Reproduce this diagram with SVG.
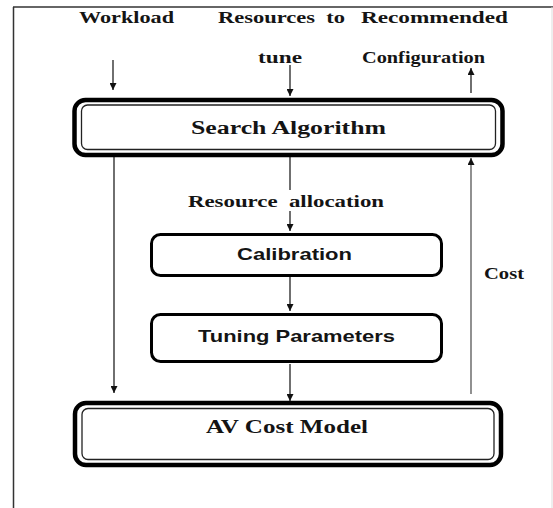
<svg xmlns="http://www.w3.org/2000/svg" width="553" height="508" viewBox="0 0 553 508">
<style>
.lbl{font-family:"Liberation Serif","Times New Roman",serif;font-weight:bold;fill:#141414;text-anchor:middle;white-space:pre}
.sans{font-family:"Liberation Sans",Arial,sans-serif;font-weight:bold;fill:#141414;text-anchor:middle}
.thick{fill:none;stroke:#000;stroke-width:4.5}
.thin{fill:none;stroke:#222;stroke-width:1.3}
.box{fill:none;stroke:#000;stroke-width:3}
.ln{stroke:#222;stroke-width:1.3;fill:none}
</style>
<defs>
<marker id="ah" viewBox="0 0 10 10" refX="10" refY="5" markerWidth="7" markerHeight="7" markerUnits="userSpaceOnUse" orient="auto">
<path d="M0,0 L10,5 L0,10 z" fill="#111"/>
</marker>
</defs>
<rect x="0" y="0" width="553" height="508" fill="#fff"/>
<g id="frame">
<line x1="13" y1="7" x2="553" y2="7" stroke="#333" stroke-width="1.5"/>
<line x1="13.5" y1="7" x2="13.5" y2="508" stroke="#333" stroke-width="1.5"/>
<line x1="552" y1="7" x2="552" y2="508" stroke="#ddd" stroke-width="1"/>
</g>
<g id="labels">
<text class="lbl" x="126.5" y="23" font-size="16.5" textLength="95" lengthAdjust="spacingAndGlyphs">Workload</text>
<text class="lbl" x="281.5" y="23" font-size="16.5" textLength="127" lengthAdjust="spacingAndGlyphs" xml:space="preserve">Resources  to</text>
<text class="lbl" x="434.5" y="23" font-size="16.5" textLength="147" lengthAdjust="spacingAndGlyphs">Recommended</text>
<text class="lbl" x="280" y="63" font-size="16.5" textLength="44" lengthAdjust="spacingAndGlyphs">tune</text>
<text class="lbl" x="423.5" y="63" font-size="16.5" textLength="123" lengthAdjust="spacingAndGlyphs">Configuration</text>
<text class="lbl" x="286" y="207" font-size="16.5" textLength="196" lengthAdjust="spacingAndGlyphs" xml:space="preserve">Resource  allocation</text>
<text class="lbl" x="504" y="279" font-size="16.5" textLength="40" lengthAdjust="spacingAndGlyphs">Cost</text>
</g>
<g id="connectors">
<line class="ln" x1="113" y1="60" x2="113" y2="90" marker-end="url(#ah)"/>
<line class="ln" x1="290" y1="65" x2="290" y2="96" marker-end="url(#ah)"/>
<line class="ln" x1="471" y1="93" x2="471" y2="68" marker-end="url(#ah)"/>
<line class="ln" x1="114" y1="157" x2="114" y2="393" marker-end="url(#ah)"/>
<line class="ln" x1="290" y1="157" x2="290" y2="190"/>
<line class="ln" x1="290" y1="211" x2="290" y2="231" marker-end="url(#ah)"/>
<line class="ln" x1="290" y1="277" x2="290" y2="311" marker-end="url(#ah)"/>
<line class="ln" x1="290" y1="364" x2="290" y2="401" marker-end="url(#ah)"/>
<line x1="471" y1="394" x2="471" y2="158" stroke="#555" stroke-width="1.3" marker-end="url(#ah)"/>
</g>
<g id="search">
<rect class="thick" x="74.5" y="100" width="428" height="55" rx="11"/>
<rect class="thin" x="81.5" y="105" width="414" height="44.5" rx="6"/>
<text class="lbl" x="288.5" y="134" font-size="18.5" textLength="195" lengthAdjust="spacingAndGlyphs">Search Algorithm</text>
</g>
<g id="calibration">
<rect class="box" x="151.5" y="234.5" width="290" height="41" rx="9"/>
<text class="sans" x="294.5" y="259.5" font-size="16.5" textLength="115" lengthAdjust="spacingAndGlyphs">Calibration</text>
</g>
<g id="tuning">
<rect class="box" x="151.5" y="314.5" width="290" height="47" rx="9"/>
<text class="sans" x="296.5" y="341.5" font-size="17" textLength="197" lengthAdjust="spacingAndGlyphs">Tuning Parameters</text>
</g>
<g id="avcost">
<rect class="thick" x="75" y="403" width="426" height="62" rx="11"/>
<rect class="thin" x="82" y="408.5" width="412" height="51" rx="6"/>
<text class="lbl" x="287" y="432.5" font-size="19.5" textLength="162" lengthAdjust="spacingAndGlyphs">AV Cost Model</text>
</g>
</svg>
